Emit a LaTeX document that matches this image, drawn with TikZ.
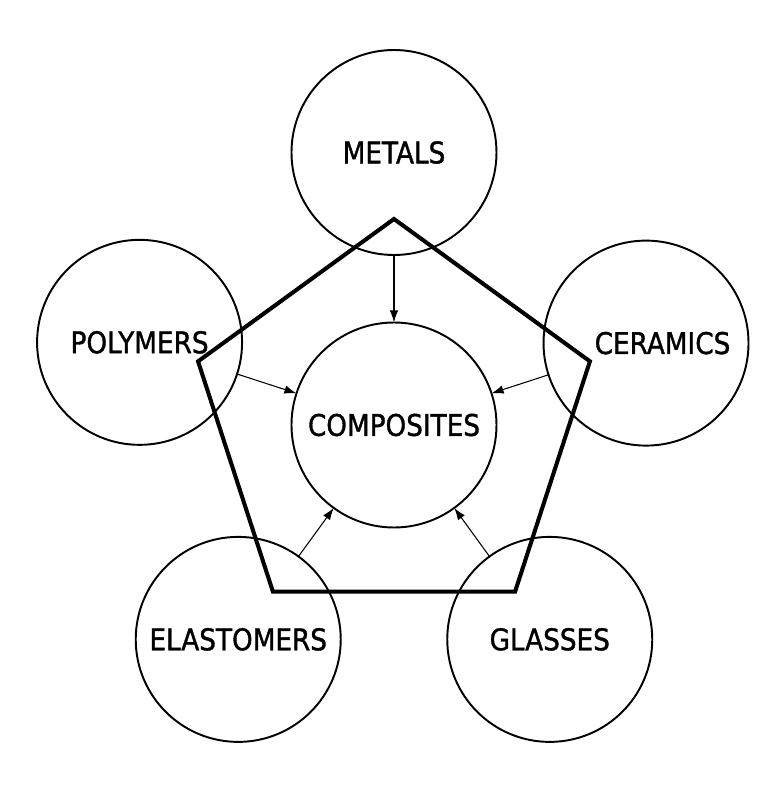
\documentclass[tikz,border=0pt]{standalone}
\usepackage{fontspec}
\setmainfont{DejaVu Sans}[FakeStretch=0.88,FakeBold=1.2]
\usetikzlibrary{arrows.meta}

\begin{document}
\begin{tikzpicture}[
  disc/.style={draw,circle,line width=1.1pt,minimum size=4.1cm,inner sep=0pt,fill=none},
  frame/.style={line width=2.3pt,line join=miter},
  feed/.style={-{Latex[length=2.4mm,width=1.7mm]},line width=0.6pt,shorten <=-1pt,shorten >=-0.5pt},
  every node/.append style={font=\fontsize{17}{19}\selectfont}
]
  \useasboundingbox (-7.88,-7.28) rectangle (7.30,8.5);

  \node[disc] (comp) at (0,0) {COMPOSITES};

  % pentagon behind the outer discs
  \draw[frame] (90:4.12) -- (162:4.12) -- (234:4.12) -- (306:4.12) -- (18:4.12) -- cycle;

  \node[disc] (metals) at (90:5.45) {METALS};
  \node[disc] (polymers) at (162:5.35) {POLYMERS\hspace{0.56cm}};
  \node[disc] (ceramics) at (18:5.3) {\hspace{0.66cm}CERAMICS};
  \node[disc] (elastomers) at (234:5.3) {ELASTOMERS};
  \node[disc] (glasses) at (306:5.3) {GLASSES};

  \draw[feed] (metals) -- (comp);
  \draw[feed] (polymers) -- (comp);
  \draw[feed] (ceramics) -- (comp);
  \draw[feed] (elastomers) -- (comp);
  \draw[feed] (glasses) -- (comp);
\end{tikzpicture}
\end{document}
